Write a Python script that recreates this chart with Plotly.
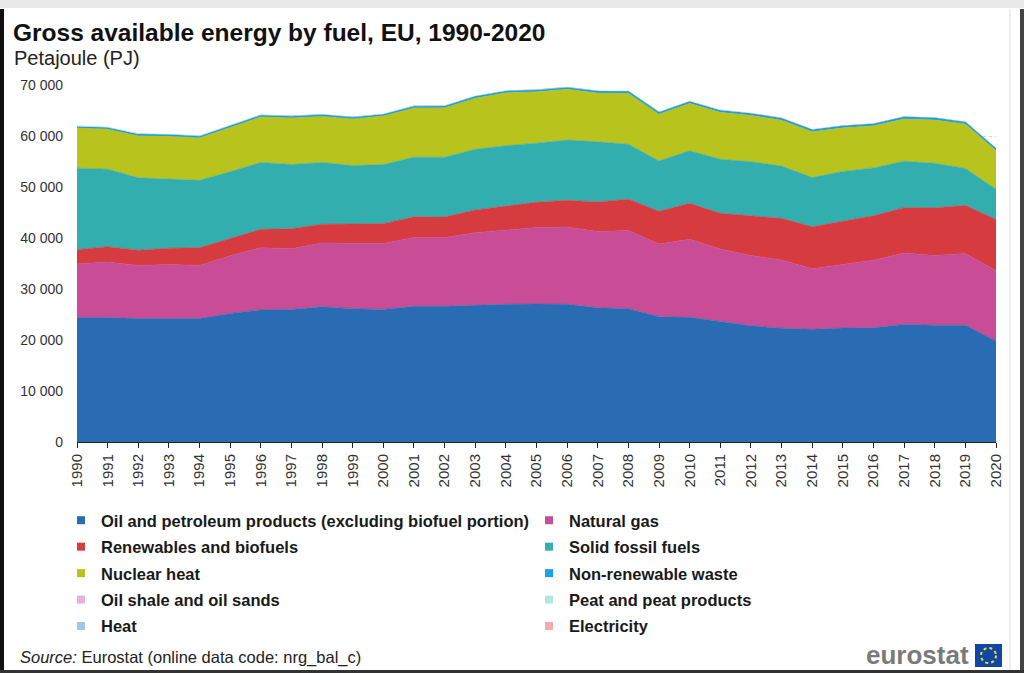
import plotly.graph_objects as go

# ---------------- data (PJ) ----------------
years = list(range(1990, 2021))

oil = [24400, 24400, 24200, 24200, 24200, 25200, 25900, 26000, 26500, 26150,
       26000, 26600, 26600, 26800, 27000, 27050, 27000, 26300, 26150, 24550,
       24450, 23650, 22800, 22300, 22100, 22350, 22400, 23050, 22900, 22900,
       19800]
natural_gas = [10500, 10900, 10400, 10600, 10400, 11300, 12200, 11900, 12500, 12800,
               12900, 13500, 13500, 14250, 14600, 15000, 15150, 14950, 15300, 14250,
               15300, 14200, 13750, 13400, 11850, 12500, 13250, 14000, 13650, 14050,
               13800]
renewables = [2800, 3000, 3000, 3200, 3500, 3400, 3600, 3900, 3700, 3800,
              3900, 4050, 4000, 4450, 4700, 4950, 5250, 5800, 6150, 6450,
              7050, 7000, 7800, 8150, 8250, 8350, 8700, 8900, 9350, 9450,
              10050]
solid_fossil = [16000, 15200, 14200, 13600, 13200, 13100, 13100, 12600, 12100, 11450,
                11600, 11700, 11750, 11900, 11800, 11600, 11800, 11800, 10800, 9850,
                10300, 10600, 10600, 10250, 9650, 9850, 9400, 9100, 8750, 7250,
                5900]
nuclear = [7900, 7900, 8300, 8400, 8400, 8800, 9000, 9200, 9100, 9200,
           9550, 9700, 9700, 10050, 10400, 10100, 10000, 9600, 10000, 9200,
           9300, 9200, 9100, 9000, 9000, 8550, 8250, 8300, 8500, 8700,
           7600]
non_renewable_waste = [150, 160, 160, 170, 170, 180, 190, 190, 200, 200,
                       210, 210, 220, 220, 230, 240, 240, 250, 250, 260,
                       270, 270, 280, 280, 290, 290, 300, 300, 300, 300,
                       300]
oil_shale = [130, 120, 110, 100, 100, 100, 100, 100, 100, 90,
             90, 90, 100, 110, 110, 100, 90, 110, 110, 100,
             130, 130, 120, 130, 130, 110, 110, 130, 130, 110,
             80]
peat = [110, 110, 100, 100, 100, 100, 100, 100, 90, 90,
        90, 90, 90, 90, 90, 80, 80, 80, 80, 70,
        80, 80, 70, 70, 60, 60, 60, 60, 60, 50,
        40]
heat = [5, 5, 5, 5, 5, 5, 5, 5, 5, 5,
        5, 5, 5, 5, 5, 5, 5, 5, 5, 5,
        5, 5, 5, 5, 5, 5, 5, 5, 5, 5,
        5]
electricity = [40, 40, 40, 40, 40, 40, 40, 40, 40, 40,
               40, 40, 40, 40, 40, 40, 40, 40, 40, 40,
               40, 40, 40, 40, 40, 40, 40, 40, 40, 40,
               40]

names = ["Oil and petroleum products (excluding biofuel portion)", "Natural gas",
         "Renewables and biofuels", "Solid fossil fuels", "Nuclear heat",
         "Non-renewable waste", "Oil shale and oil sands", "Peat and peat products",
         "Heat", "Electricity"]
values = [oil, natural_gas, renewables, solid_fossil, nuclear,
          non_renewable_waste, oil_shale, peat, heat, electricity]
colors = ["#2a6cb3", "#c84d96", "#d63b40", "#32aeae", "#b8c31e",
          "#1aa1e1", "#eab0dc", "#b2e6e6", "#a4c6e8", "#f0aab0"]
line_widths = [0.6, 0.6, 0.6, 0.6, 0.6, 1.6, 0, 0, 0, 0]

y_ticks = [0, 10000, 20000, 30000, 40000, 50000, 60000, 70000]

# ---------------- layout geometry (pixels) ----------------
W, H = 1024, 673
PL, PR, PT, PB = 77, 996, 85, 442


def fx(x):
    return (x - PL) / (PR - PL)


def fy(y):
    return (PB - y) / (PB - PT)


FONT = "Liberation Sans, Arial, sans-serif"

fig = go.Figure()

for name, vals, col, lw in zip(names, values, colors, line_widths):
    fig.add_trace(go.Scatter(
        x=years, y=vals, name=name, stackgroup="one", mode="lines",
        line=dict(width=lw, color=col), fillcolor=col,
        showlegend=False, legendgroup=name, hoverinfo="x+y+name"))

# legend entries (square markers), two columns
for i, (name, col) in enumerate(zip(names, colors)):
    fig.add_trace(go.Scatter(
        x=[None], y=[None], mode="markers", name=name, legendgroup=name,
        marker=dict(symbol="square", size=8, color=col),
        legend="legend" if i % 2 == 0 else "legend2", showlegend=True))

legend_common = dict(
    orientation="v", xanchor="left", yanchor="top", tracegroupgap=2,
    bgcolor="rgba(0,0,0,0)", borderwidth=0, itemwidth=30,
    font=dict(family=FONT, size=16.5, color="#1a1a1a", weight="bold"),
    xref="paper", yref="paper")

fig.update_layout(
    width=W, height=H,
    margin=dict(l=PL, r=W - PR, t=PT, b=H - PB, pad=0),
    paper_bgcolor="white", plot_bgcolor="white",
    separators=". ",
    font=dict(family=FONT, color="#333333"),
    title=dict(text="<b>Gross available energy by fuel, EU, 1990-2020</b>",
               x=13 / W, xanchor="left", xref="container",
               y=1 - 32 / H, yanchor="middle", yref="container",
               font=dict(family=FONT, size=24.5, color="#111111")),
    legend=dict(x=fx(61), y=fy(503), **legend_common),
    legend2=dict(x=fx(529), y=fy(503), **legend_common),
    xaxis=dict(range=[1990, 2020], tickmode="array", tickvals=years,
               ticktext=[str(y) for y in years], tickangle=-90,
               ticks="outside", ticklen=5, tickcolor="#222", tickwidth=1,
               showline=True, linecolor="#222", linewidth=1,
               showgrid=False, zeroline=False,
               tickfont=dict(family=FONT, size=15, color="#333")),
    yaxis=dict(range=[0, 70000], tickmode="array", tickvals=y_ticks,
               tickformat=",d", showgrid=True, gridcolor="#d4d4d4",
               griddash="dot", gridwidth=1, zeroline=False, showline=False,
               ticks="", ticklabelstandoff=13,
               tickfont=dict(family=FONT, size=14, color="#333")),
    showlegend=True,
)

annotations = [
    dict(text="Petajoule (PJ)", x=fx(12), y=fy(58), xref="paper", yref="paper",
         showarrow=False, xanchor="left", yanchor="middle",
         font=dict(family=FONT, size=20, color="#222")),
    dict(text="<i>Source:</i> Eurostat (online data code: nrg_bal_c)",
         x=fx(18), y=fy(657), xref="paper", yref="paper", showarrow=False,
         xanchor="left", yanchor="middle",
         font=dict(family=FONT, size=16.5, color="#222")),
    dict(text="<b>eurostat</b>", x=fx(971), y=fy(655), xref="paper", yref="paper",
         showarrow=False, xanchor="right", yanchor="middle",
         font=dict(family=FONT, size=26, color="#7a7a7a")),
]
fig.update_layout(annotations=annotations)

shapes = [
    # top grey band
    dict(type="rect", xref="paper", yref="paper", x0=fx(0), x1=fx(W), y0=fy(0), y1=fy(8),
         fillcolor="#e9e9e9", line=dict(width=0), layer="above"),
    # left black bar
    dict(type="rect", xref="paper", yref="paper", x0=fx(0), x1=fx(4), y0=fy(9), y1=fy(H),
         fillcolor="#111111", line=dict(width=0), layer="above"),
    # right light border
    dict(type="line", xref="paper", yref="paper", x0=fx(1010), x1=fx(1010), y0=fy(9), y1=fy(H),
         line=dict(color="#dddddd", width=1), layer="above"),
    # right dark edge
    dict(type="rect", xref="paper", yref="paper", x0=fx(1020), x1=fx(W), y0=fy(9), y1=fy(H),
         fillcolor="#444444", line=dict(width=0), layer="above"),
    # bottom dark edge
    dict(type="rect", xref="paper", yref="paper", x0=fx(0), x1=fx(W), y0=fy(670), y1=fy(H),
         fillcolor="#333333", line=dict(width=0), layer="above"),
    # EU flag
    dict(type="rect", xref="paper", yref="paper", x0=fx(975), x1=fx(1002), y0=fy(644), y1=fy(667),
         fillcolor="#0e47a8", line=dict(width=0), layer="above"),
    dict(type="circle", xref="paper", yref="paper", x0=fx(981), x1=fx(996), y0=fy(648), y1=fy(663),
         fillcolor="rgba(0,0,0,0)", line=dict(color="#ffdd00", width=2, dash="dot"), layer="above"),
]
fig.update_layout(shapes=shapes)

fig.write_html("out.html", config={"displayModeBar": False},
               post_script="document.body.style.margin='0';document.body.style.overflow='hidden';")
